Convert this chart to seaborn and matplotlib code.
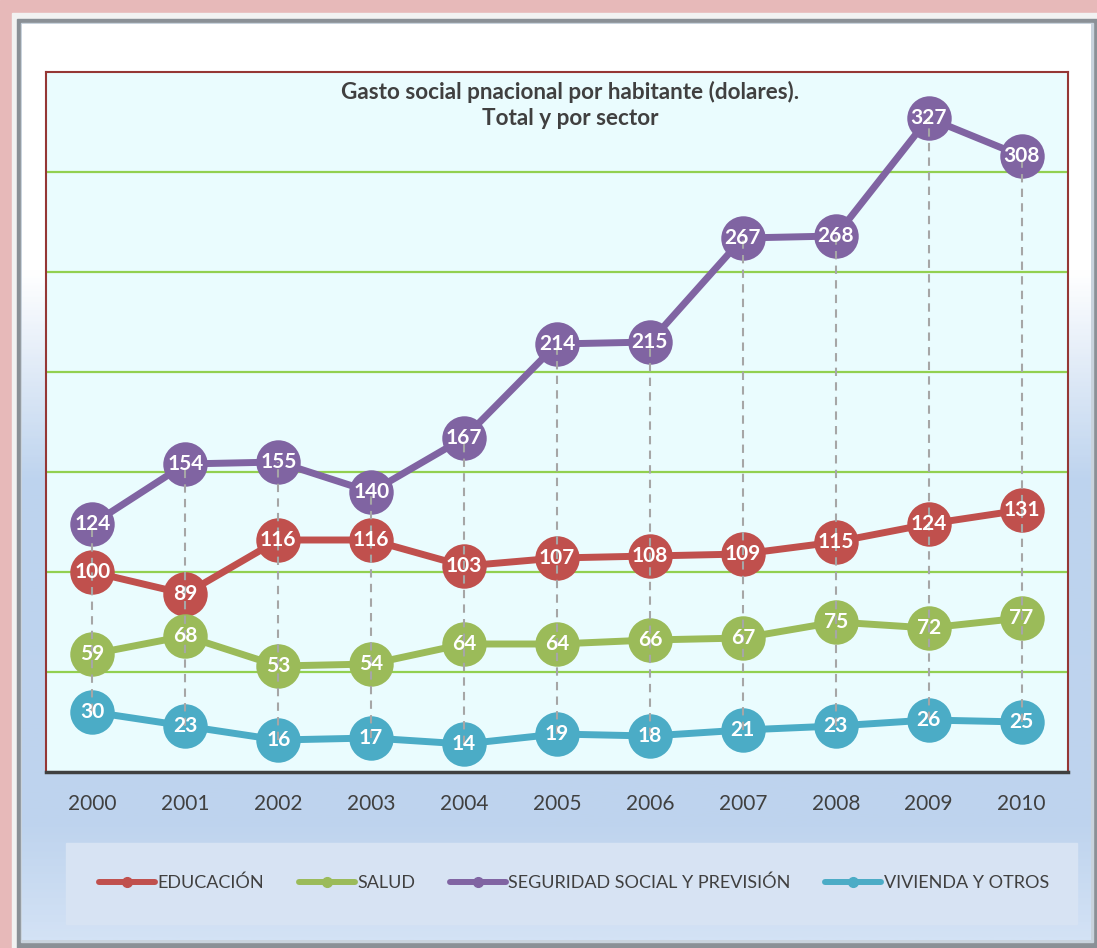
import numpy as np
import pandas as pd
import matplotlib.pyplot as plt
import seaborn as sns
from matplotlib.patches import Rectangle
from matplotlib.lines import Line2D
from matplotlib.colors import LinearSegmentedColormap

# Datos del grafico
anios = ['2000', '2001', '2002', '2003', '2004', '2005', '2006', '2007', '2008', '2009', '2010']
educacion = [100, 89, 116, 116, 103, 107, 108, 109, 115, 124, 131]
salud = [59, 68, 53, 54, 64, 64, 66, 67, 75, 72, 77]
seguridad = [124, 154, 155, 140, 167, 214, 215, 267, 268, 327, 308]
vivienda = [30, 23, 16, 17, 14, 19, 18, 21, 23, 26, 25]

sectores = ['EDUCACIÓN', 'SALUD', 'SEGURIDAD SOCIAL Y PREVISIÓN', 'VIVIENDA Y OTROS']
colores = ['#C0504D', '#9BBB59', '#8064A2', '#4BACC6']
titulo = 'Gasto social pnacional por habitante (dolares).\nTotal y por sector'

series = [educacion, salud, seguridad, vivienda]
df = pd.DataFrame({
    'idx': np.tile(np.arange(len(anios)), len(sectores)),
    'valor': np.concatenate(series),
    'sector': np.repeat(sectores, len(anios)),
})

sns.set_style('white')
plt.rcParams['font.family'] = ['Lato', 'DejaVu Sans']

W, H = 1097, 948
fig = plt.figure(figsize=(W / 100, H / 100), dpi=100)

# Fondo: marco rosado, bisel gris y degradado blanco-azul
bg = fig.add_axes([0, 0, 1, 1], zorder=0)
bg.set_xlim(0, W)
bg.set_ylim(H, 0)
bg.axis('off')
bg.add_patch(Rectangle((0, 0), W, H, color='#E7B9B9'))
bg.add_patch(Rectangle((12, 13), W - 12, H - 13, color='#F2F2F2'))
bg.add_patch(Rectangle((17, 19), W - 17, H - 19, color='#8A9096'))
bg.add_patch(Rectangle((21, 23), W - 25, H - 29, color='#C9D3DD'))
cmap = LinearSegmentedColormap.from_list(
    'fondo', [(0, '#FFFFFF'), (0.27, '#FFFFFF'), (0.5, '#BDD3EE'),
              (0.88, '#BFD4EE'), (1, '#D3E2F5')])
grad = np.linspace(0, 1, 400).reshape(-1, 1)
bg.imshow(grad, cmap=cmap, aspect='auto', extent=(22, W - 6, H - 8, 24), zorder=2)
bg.add_patch(Rectangle((66, 843), 1011, 81, color='#D7E3F3', zorder=3))

# Grafico principal
ax = fig.add_axes([46 / W, 1 - 772 / H, 1022 / W, 700 / H], zorder=1)
ax.set_facecolor('#EAFCFE')

sns.lineplot(data=df, x='idx', y='valor', hue='sector', hue_order=sectores,
             palette=colores, marker='o', markersize=32, markeredgewidth=0,
             linewidth=5, legend=False, ax=ax, zorder=2)

# Lineas de maximo-minimo
tabla = np.array(series)
ax.vlines(np.arange(len(anios)), tabla.min(axis=0), tabla.max(axis=0),
          colors='#A6A6A6', linestyles=(0, (4, 3)), linewidth=1.5, zorder=3)

for vals in series:
    for i, v in enumerate(vals):
        ax.text(i, v, str(v), ha='center', va='center', color='white',
                fontsize=15, fontweight='bold', zorder=5)

ax.set_xlim(-0.5, len(anios) - 0.5)
ax.set_ylim(0, 350)
ax.set_yticks(range(50, 350, 50))
ax.set_yticklabels([])
ax.grid(axis='y', color='#92D050', linewidth=1.6)
ax.grid(axis='x', visible=False)
ax.set_axisbelow(True)
ax.set_xticks(range(len(anios)))
ax.set_xticklabels(anios)
ax.tick_params(axis='x', length=0, pad=16, labelsize=15, labelcolor='#404040')
ax.tick_params(axis='y', length=0)
ax.set_xlabel('')
ax.set_ylabel('')

for lado in ['left', 'top', 'right']:
    ax.spines[lado].set_color('#953735')
    ax.spines[lado].set_linewidth(1.5)
ax.spines['bottom'].set_color('#404040')
ax.spines['bottom'].set_linewidth(2.5)

ax.text(0.513, 0.987, titulo, transform=ax.transAxes, ha='center', va='top',
        fontsize=16.2, fontweight='bold', color='#404040', linespacing=1.3)

# Leyenda
handles = [Line2D([], [], color=c, linewidth=4.3, marker='o', markersize=7,
                  solid_capstyle='round') for c in colores]
fig.legend(handles, sectores, loc='center', bbox_to_anchor=(574 / W, 1 - 883 / H),
           ncol=4, frameon=False, fontsize=13, labelcolor='#404040',
           handlelength=3.1, handletextpad=0.15, columnspacing=1.9)

fig.savefig('out.png', dpi=100)
